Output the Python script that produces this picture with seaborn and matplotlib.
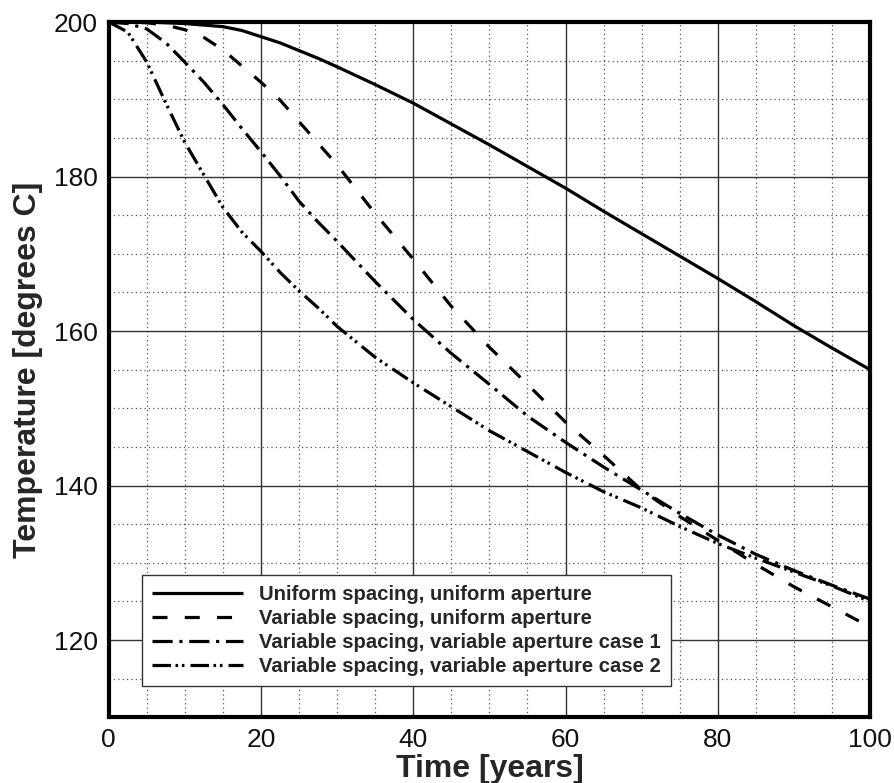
import numpy as np
import pandas as pd
import matplotlib
matplotlib.use("Agg")
import matplotlib.pyplot as plt
from matplotlib.ticker import MultipleLocator
import seaborn as sns

# Time axis (years)
time_years = [0, 2.5, 5, 7.5, 10, 12.5, 15, 17.5, 20, 22.5, 25, 27.5, 30, 35, 40,
              45, 50, 55, 60, 65, 70, 75, 80, 85, 90, 95, 100]

# Outlet temperature (degrees C) for each fracture configuration
uniform_uniform = [200, 200, 200, 199.9, 199.8, 199.6, 199.4, 198.9, 198.1, 197.3, 196.3,
                   195.3, 194.2, 191.9, 189.5, 186.8, 184.1, 181.3, 178.5, 175.5,
                   172.6, 169.7, 166.8, 163.8, 160.7, 157.8, 155.0]
variable_uniform = [200, 200, 199.9, 199.6, 199.0, 198.0, 196.4, 194.3, 192.2, 189.9, 187.1,
                    184.3, 181.5, 175.2, 169.3, 163.2, 157.9, 153.1, 148.2, 143.9,
                    139.4, 136.0, 132.9, 129.8, 126.9, 124.3, 121.7]
variable_variable_1 = [200, 199.8, 199.1, 197.3, 194.8, 192.2, 189.3, 186.2, 183.2, 180.1,
                       176.8, 174.1, 171.6, 166.4, 161.5, 157.1, 153.1, 149.0, 145.6,
                       142.4, 139.4, 136.4, 133.6, 131.1, 129.0, 127.1, 125.3]
variable_variable_2 = [200, 198.7, 194.8, 189.5, 184.4, 180.2, 176.0, 172.8, 170.3, 167.6,
                       165.2, 163.0, 160.6, 156.6, 153.3, 150.2, 147.1, 144.4, 141.7,
                       139.2, 137.1, 134.7, 132.5, 130.6, 128.8, 127.0, 125.0]

series_labels = ["Uniform spacing, uniform aperture",
                 "Variable spacing, uniform aperture",
                 "Variable spacing, variable aperture case 1",
                 "Variable spacing, variable aperture case 2"]
series_values = [uniform_uniform, variable_uniform, variable_variable_1, variable_variable_2]

x_ticks = [0, 20, 40, 60, 80, 100]
y_ticks = [120, 140, 160, 180, 200]

df = pd.concat([pd.DataFrame({"time": time_years, "temp": vals, "series": lab})
                for lab, vals in zip(series_labels, series_values)], ignore_index=True)

sns.set_style("white")
plt.rcParams["font.family"] = ["Liberation Sans", "DejaVu Sans"]

LW = 2.3
# dash patterns in units of line width
styles = {
    series_labels[0]: "-",
    series_labels[1]: (0, (4.7, 5.4)),
    series_labels[2]: (0, (6.3, 2.1, 1.0, 2.1)),
    series_labels[3]: (0, (5.8, 1.4, 0.8, 1.2, 0.8, 1.9)),
}

fig = plt.figure(figsize=(8.95, 7.83), dpi=100)
ax = fig.add_axes([0.1215, 0.0839, 0.8506, 0.888])

for lab in series_labels:
    sns.lineplot(data=df[df["series"] == lab], x="time", y="temp", ax=ax,
                 color="black", lw=LW, linestyle=styles[lab], label=lab,
                 dash_capstyle="butt", solid_capstyle="butt")

ax.set_xlim(0, 100)
ax.set_ylim(110, 200)
ax.xaxis.set_major_locator(plt.FixedLocator(x_ticks))
ax.yaxis.set_major_locator(plt.FixedLocator(y_ticks))
ax.xaxis.set_minor_locator(MultipleLocator(5))
ax.yaxis.set_minor_locator(MultipleLocator(5))

ax.grid(which="major", color="#333333", lw=1.0, ls="-")
ax.grid(which="minor", color="#555555", lw=0.9, ls=(0, (1, 2.5)))
ax.set_axisbelow(True)

for s in ax.spines.values():
    s.set_linewidth(3.0)
    s.set_color("black")
    s.set_zorder(5)

ax.tick_params(which="major", direction="in", length=11.5, width=3.0,
               labelsize=19, pad=8, top=False, right=False, color="black",
               labelcolor="#111111")
ax.tick_params(which="minor", length=0)

ax.set_xlabel("Time [years]", fontsize=23, fontweight="bold", labelpad=1)
ax.set_ylabel("Temperature [degrees C]", fontsize=23, fontweight="bold", labelpad=8)

leg = ax.legend(loc="lower left", bbox_to_anchor=(0.0437, 0.045), borderaxespad=0,
                prop={"weight": "bold", "size": 14.6},
                handlelength=4.5, handletextpad=0.8, labelspacing=0.25,
                borderpad=0.48, fancybox=False, framealpha=1)
leg.get_frame().set_edgecolor("#333333")
leg.get_frame().set_linewidth(1.0)

fig.savefig("out.png", dpi=100)
